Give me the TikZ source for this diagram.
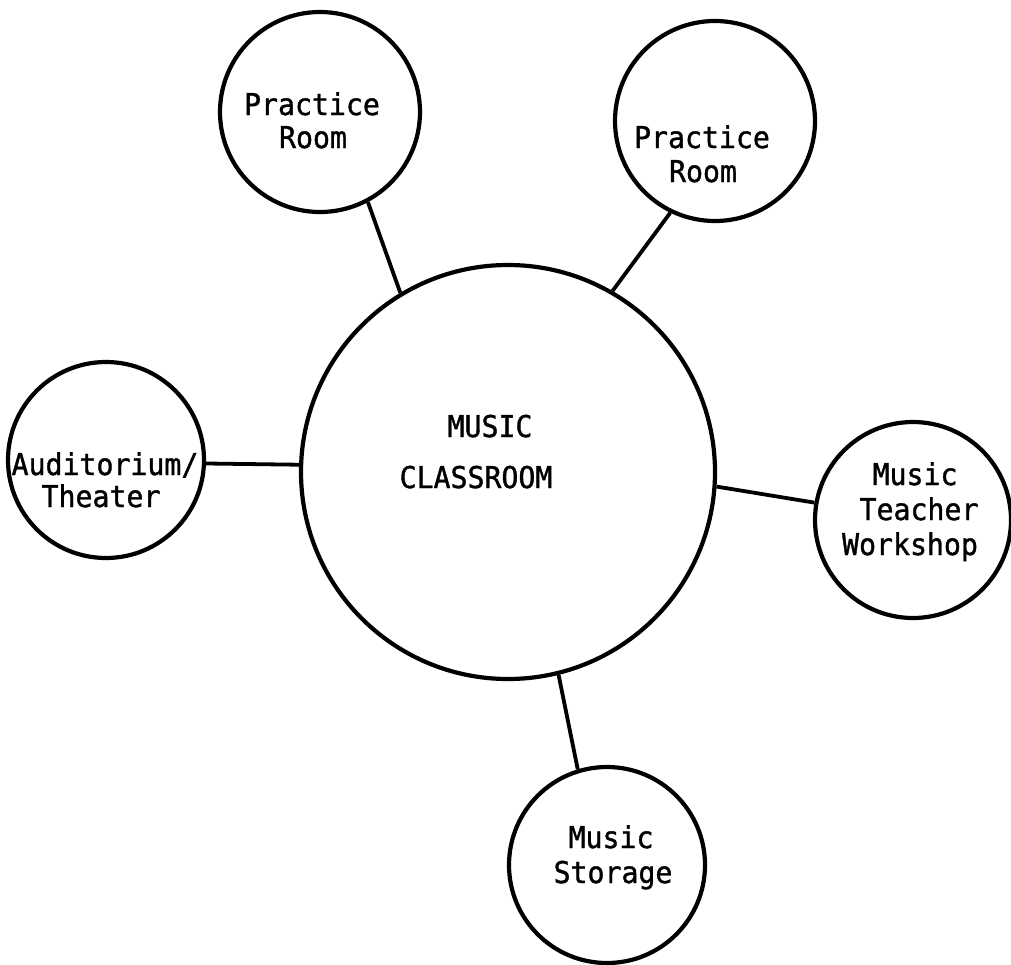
\documentclass[tikz,border=0pt]{standalone}
\usepackage{fontspec}
\newfontfamily\roomfont[FakeStretch=0.94,FakeBold=1.2]{DejaVu Sans Mono}
\begin{document}
\begin{tikzpicture}[x=1pt,y=-1pt,
  room/.style={circle,draw,line width=4.2pt,inner sep=0pt,minimum size=#1},
  link/.style={line width=3.8pt},
  txt/.style={anchor=base,inner sep=0pt,font=\roomfont\fontsize{30}{36}\selectfont}]
\useasboundingbox (0,0) rectangle (1011,964);

% rooms
\node[room=414pt] (class) at (508,472) {};
\node[room=200pt] (prL)   at (320,112) {};
\node[room=200pt] (prR)   at (715,121) {};
\node[room=196pt] (aud)   at (106,460) {};
\node[room=196pt] (shop)  at (913,520) {};
\node[room=196pt] (store) at (607,865) {};

% room names
\node[txt] (classA) at (490,437) {MUSIC};
\node[txt] (classB) at (476,488) {CLASSROOM};
\node[txt] (prLA) at (312,115) {Practice};
\node[txt] (prLB) at (313,148) {Room};
\node[txt] (prRA) at (702,148) {Practice};
\node[txt] (prRB) at (703,182) {Room};
\node[txt] (audA) at (105,475) {Auditorium/};
\node[txt] (audB) at (101,507) {Theater};
\node[txt] (shopA) at (915,485) {Music};
\node[txt] (shopB) at (919,520) {Teacher};
\node[txt] (shopC) at (910,555) {Workshop};
\node[txt] (storeA) at (611,848) {Music};
\node[txt] (storeB) at (613,883) {Storage};

% links to the classroom
\draw[link] (prL.-62)    -- (class.121);
\draw[link] (prR.-116)   -- (class.60);
\draw[link] (aud.-2)     -- (class.178);
\draw[link] (shop.170)   -- (class.-4.6);
\draw[link] (store.107)  -- (class.-76);
\end{tikzpicture}
\end{document}
